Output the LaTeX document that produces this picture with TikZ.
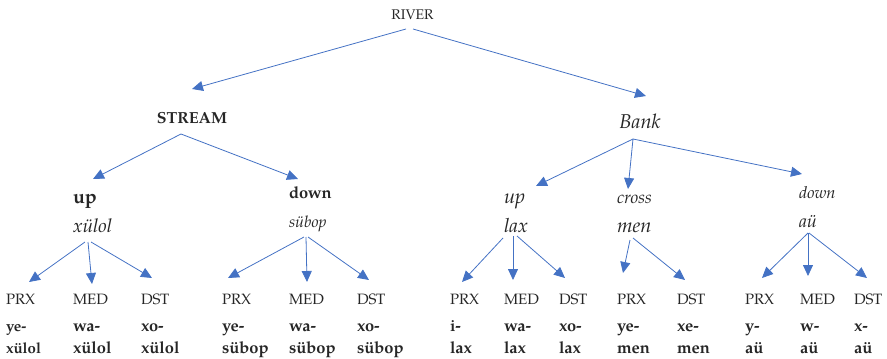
\documentclass[tikz,border=0pt]{standalone}
\usepackage{fontspec}
\setmainfont{TeX Gyre Pagella}
\usetikzlibrary{arrows.meta}
\definecolor{arrblue}{HTML}{4472C4}
\definecolor{ink}{HTML}{262626}
\newcommand{\fs}[1]{\fontsize{#1}{#1}\selectfont}
% connector: parent anchor, dx, dy, child anchor, dx, dy
\newcommand{\conn}[6]{\draw[arr] ([shift={(#2,#3)}]#1) -- ([shift={(#5,#6)}]#4);}
% leaf: name, x, label, line1, line2, size
\newcommand{\leaf}[6]{%
  \node[lab] (#1) at (#2,304) {#3};
  \node[form, font=\fs{#6}\bfseries] (#1a) at (#2,331) {#4};
  \node[form, font=\fs{#6}\bfseries] (#1b) at (#2,353.5) {#5};}
\begin{document}
\begin{tikzpicture}[x=1pt,y=-1pt,
  every node/.style={inner sep=0pt, outer sep=0pt, text=ink},
  arr/.style={draw=arrblue, line width=0.8pt, -{Triangle[length=11pt,width=10pt]}},
  lab/.style={anchor=base west, font=\fs{15}},
  form/.style={anchor=base west},
  mid/.style={anchor=base west}]
\useasboundingbox (0,0) rectangle (887,359);

% top levels
\node[anchor=base, font=\fs{14}] (river) at (412.5,19) {RIVER};
\node[anchor=base, font=\fs{16}\bfseries] (stream) at (192,123) {STREAM};
\node[anchor=base, font=\fs{20}\itshape] (bank) at (640,128) {Bank};

% second level
\node[mid, font=\fs{19.5}\bfseries] (sup) at (73,203) {up};
\node[mid, font=\fs{19}\itshape] (sxul) at (73,232) {xülol};
\node[mid, font=\fs{16.5}\bfseries] (sdown) at (289,198) {down};
\node[mid, font=\fs{16}\itshape] (ssub) at (289,227) {sübop};
\node[mid, font=\fs{20}\itshape] (bup) at (504,203) {up};
\node[mid, font=\fs{19.5}\itshape] (blax) at (504,232) {lax};
\node[mid, font=\fs{17.5}\itshape] (bcross) at (617,203) {cross};
\node[mid, font=\fs{20}\itshape] (bmen) at (617,232) {men};
\node[mid, font=\fs{16.5}\itshape] (bdown) at (799,198) {down};
\node[mid, font=\fs{18}\itshape] (bau) at (799,227) {aü};

% leaves
\leaf{l1}{6}{PRX}{ye-}{xülol}{15}
\leaf{l2}{73}{MED}{wa-}{xülol}{16.5}
\leaf{l3}{141}{DST}{xo-}{xülol}{16.5}
\leaf{l4}{222}{PRX}{ye-}{sübop}{16.5}
\leaf{l5}{289}{MED}{wa-}{sübop}{16.5}
\leaf{l6}{357}{DST}{xo-}{sübop}{16.5}
\leaf{l7}{450}{PRX}{i-}{lax}{16.5}
\leaf{l8}{504}{MED}{wa-}{lax}{16.5}
\leaf{l9}{559}{DST}{xo-}{lax}{16.5}
\leaf{l10}{617}{PRX}{ye-}{men}{16.5}
\leaf{l11}{677}{DST}{xe-}{men}{16.5}
\leaf{l12}{745}{PRX}{y-}{aü}{16.5}
\leaf{l13}{800}{MED}{w-}{aü}{16.5}
\leaf{l14}{854}{DST}{x-}{aü}{16.5}

% connectors
\conn{river.base}{-6.5}{10}{stream.base}{0}{-34}
\conn{river.base}{0.5}{10}{bank.base}{6}{-32}
\conn{stream.base}{-11}{11}{sup.base west}{20}{-24}
\conn{stream.base}{-11}{11}{sdown.base west}{9}{-19}
\conn{bank.base}{-7}{11}{bup.base west}{32}{-17}
\conn{bank.base}{-7}{11}{bcross.base west}{11}{-14}
\conn{bank.base}{-7}{11}{bdown.base west}{3}{-24}

\conn{sxul.base west}{12}{10}{l1.base west}{23}{-22}
\conn{sxul.base west}{15}{10}{l2.base west}{19}{-20}
\conn{sxul.base west}{18}{10}{l3.base west}{11}{-26}
\conn{ssub.base west}{15}{10}{l4.base west}{6}{-26}
\conn{ssub.base west}{17}{10}{l5.base west}{18}{-22}
\conn{ssub.base west}{19}{10}{l6.base west}{12}{-24}
\conn{blax.base west}{-1}{6}{l7.base west}{12}{-22}
\conn{blax.base west}{9}{4}{l8.base west}{9}{-24}
\conn{blax.base west}{13}{4}{l9.base west}{6}{-26}
\conn{bmen.base west}{13}{8}{l10.base west}{6}{-31}
\conn{bmen.base west}{16}{6}{l11.base west}{8}{-24}
\conn{bau.base west}{9}{6}{l12.base west}{17}{-26}
\conn{bau.base west}{9}{6}{l13.base west}{8}{-28}
\conn{bau.base west}{10}{6}{l14.base west}{13}{-26}
\end{tikzpicture}
\end{document}
